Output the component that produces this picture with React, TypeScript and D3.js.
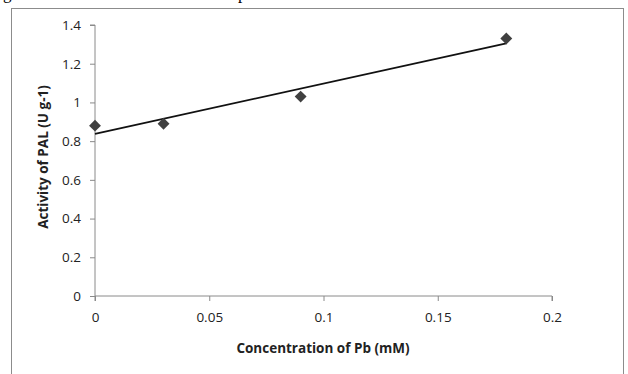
import React, { useEffect, useRef } from "react";
import * as d3 from "d3";

// Data
const concentrations = [0, 0.03, 0.09, 0.18];
const activities = [0.88, 0.89, 1.03, 1.33];
const xTicks = [0, 0.05, 0.1, 0.15, 0.2];
const yTicks = [0, 0.2, 0.4, 0.6, 0.8, 1, 1.2, 1.4];

const App = () => {
  const svgRef = useRef<SVGSVGElement | null>(null);

  useEffect(() => {
    const svg = d3.select(svgRef.current);
    svg.selectAll("*").remove();

    const font = "'Open Sans', 'Liberation Sans', sans-serif";
    const axisColor = "#8a8a8a";

    // caption descenders cut off at the top edge
    svg
      .append("text")
      .attr("x", 3)
      .attr("y", -1)
      .style("font-family", "'Liberation Serif', serif")
      .style("font-size", "17px")
      .text("g");
    svg
      .append("text")
      .attr("x", 238)
      .attr("y", -1)
      .style("font-family", "'Liberation Serif', serif")
      .style("font-size", "17px")
      .text("p");

    // chart frame
    svg
      .append("rect")
      .attr("x", 11.5)
      .attr("y", 8.5)
      .attr("width", 612)
      .attr("height", 380)
      .attr("fill", "#fff")
      .attr("stroke", "#8c8c8c")
      .attr("stroke-width", 1);

    const x = d3.scaleLinear().domain([0, 0.2]).range([95, 552]);
    const y = d3.scaleLinear().domain([0, 1.4]).range([296, 25]);

    // Y axis
    const yAxis = svg
      .append("g")
      .attr("transform", `translate(${x(0)},0)`)
      .call(
        d3
          .axisLeft(y)
          .tickValues(yTicks)
          .tickSize(5)
          .tickPadding(9)
          .tickFormat((d) => d3.format("")(d as number))
      );
    yAxis.select(".domain").attr("stroke", axisColor).attr("d", `M-5,${y(1.4)}H0V${y(0)}`);
    yAxis.selectAll(".tick line").attr("stroke", axisColor);
    yAxis
      .selectAll(".tick text")
      .style("font-family", font)
      .style("font-size", "13.5px")
      .attr("fill", "#222");

    // X axis
    const xAxis = svg
      .append("g")
      .attr("transform", `translate(0,${y(0)})`)
      .call(
        d3
          .axisBottom(x)
          .tickValues(xTicks)
          .tickSize(5)
          .tickPadding(11)
          .tickFormat((d) => d3.format("")(d as number))
      );
    xAxis.select(".domain").attr("stroke", axisColor).attr("d", `M${x(0)},5V0H${x(0.2)}V5`);
    xAxis.selectAll(".tick line").attr("stroke", axisColor);
    xAxis
      .selectAll(".tick text")
      .style("font-family", font)
      .style("font-size", "13.5px")
      .attr("fill", "#222");

    // linear trendline (least squares)
    const pts = concentrations.map((c, i) => [c, activities[i]] as [number, number]);
    const mx = d3.mean(concentrations) as number;
    const my = d3.mean(activities) as number;
    const sxy = d3.sum(pts, (p) => (p[0] - mx) * (p[1] - my));
    const sxx = d3.sum(pts, (p) => (p[0] - mx) ** 2);
    const slope = sxy / sxx;
    const intercept = my - slope * mx;
    const xMin = d3.min(concentrations) as number;
    const xMax = d3.max(concentrations) as number;
    svg
      .append("line")
      .attr("x1", x(xMin))
      .attr("y1", y(intercept + slope * xMin))
      .attr("x2", x(xMax))
      .attr("y2", y(intercept + slope * xMax))
      .attr("stroke", "#111")
      .attr("stroke-width", 1.8);

    // diamond markers
    const diamond = d3.symbol().type(d3.symbolDiamond2).size(90);
    svg
      .selectAll(".pt")
      .data(pts)
      .join("path")
      .attr("class", "pt")
      .attr("transform", (d) => `translate(${x(d[0])},${y(d[1])})`)
      .attr("d", diamond)
      .attr("fill", "#404040");

    // axis titles
    svg
      .append("text")
      .attr("x", 323)
      .attr("y", 353)
      .attr("text-anchor", "middle")
      .style("font-family", font)
      .style("font-size", "13.5px")
      .style("font-weight", "bold")
      .attr("fill", "#222")
      .text("Concentration of Pb (mM)");

    svg
      .append("text")
      .attr("transform", `translate(48,157) rotate(-90)`)
      .attr("text-anchor", "middle")
      .style("font-family", font)
      .style("font-size", "13.5px")
      .style("font-weight", "bold")
      .attr("fill", "#222")
      .text("Activity of  PAL (U g-1)");
  }, []);

  return (
    <svg
      ref={svgRef}
      width={628}
      height={374}
      style={{ position: "absolute", left: 0, top: 0, background: "#fff" }}
    ></svg>
  );
};

export default App;
